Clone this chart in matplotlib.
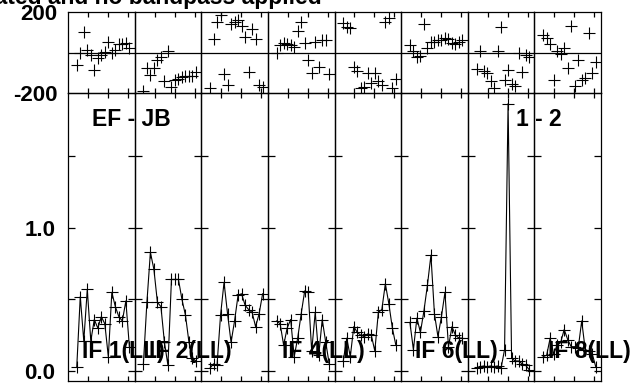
import matplotlib
matplotlib.use("Agg")
import matplotlib.pyplot as plt

# ---------------- data ----------------
channels = list(range(1, 17))
if_names = ["IF 1(LL)", "IF 2(LL)", "IF 3(LL)", "IF 4(LL)",
            "IF 5(LL)", "IF 6(LL)", "IF 7(LL)", "IF 8(LL)"]
label_shown = [True, True, False, True, False, True, False, True]

amp_if1 = [0.03, 0.52, 0.21, 0.57, 0.21, 0.36, 0.30, 0.38, 0.33, 0.10, 0.55, 0.45, 0.38, 0.35, 0.49, 0.17]
amp_if2 = [0.05, 0.48, 0.83, 0.71, 0.48, 0.45, 0.20, 0.04, 0.64, 0.64, 0.64, 0.50, 0.39, 0.20, 0.09, 0.07]
amp_if3 = [0.02, 0.05, 0.04, 0.39, 0.62, 0.40, 0.20, 0.35, 0.53, 0.54, 0.46, 0.43, 0.41, 0.31, 0.40, 0.54]
amp_if4 = [0.35, 0.33, 0.18, 0.30, 0.36, 0.10, 0.23, 0.40, 0.56, 0.55, 0.14, 0.41, 0.11, 0.36, 0.20, 0.05]
amp_if5 = [0.07, 0.23, 0.10, 0.31, 0.27, 0.25, 0.24, 0.26, 0.25, 0.14, 0.41, 0.43, 0.61, 0.47, 0.30, 0.18]
amp_if6 = [0.34, 0.15, 0.37, 0.27, 0.42, 0.60, 0.81, 0.40, 0.24, 0.38, 0.55, 0.17, 0.31, 0.25, 0.23, 0.23]
amp_if7 = [0.02, 0.03, 0.035, 0.03, 0.035, 0.03, 0.035, 0.02, 0.15, 1.87, 0.09, 0.07, 0.07, 0.05, 0.04, 0.01]
amp_if8 = [0.10, 0.11, 0.23, 0.12, 0.18, 0.20, 0.29, 0.22, 0.17, 0.17, 0.16, 0.35, 0.15, 0.14, 0.12, 0.03]

phase_if1 = [-63, 0, 99, 11, -10, -84, -25, -10, 3, 52, -2, 11, 44, 44, 47, 20]
phase_if2 = [-190, -78, -110, -78, -37, -20, -140, 5, -170, -137, -130, -122, -118, -115, -115, -95]
phase_if3 = [-173, 66, 151, 184, -107, -161, 143, 151, 160, 130, 77, -96, 118, 69, -161, -170]
phase_if4 = [-3, 35, 46, 41, 35, 25, 104, 153, 49, -37, -102, 54, -74, 62, 60, -105]
phase_if5 = [145, 128, 120, -74, -91, -173, -170, -102, -152, -102, -140, -160, 150, 170, -173, -130]
phase_if6 = [36, 8, -22, -15, 143, 20, 52, 52, 61, 64, 74, 69, 47, 44, 52, 61]
phase_if7 = [-81, 5, -91, -100, -140, -173, 5, 124, -135, -86, -155, -163, -3, -97, -12, -20]
phase_if8 = [85, 74, 44, -137, 8, -5, 20, -79, 130, -166, -35, -137, -124, 94, -101, -46]

amps = [amp_if1, amp_if2, amp_if3, amp_if4, amp_if5, amp_if6, amp_if7, amp_if8]
phases = [phase_if1, phase_if2, phase_if3, phase_if4, phase_if5, phase_if6, phase_if7, phase_if8]

title_text = "Calibrated and no bandpass applied"
baseline_label = "EF - JB"
pol_label = "1 - 2"

# ---------------- layout ----------------
W, H = 636, 383
fig = plt.figure(figsize=(W / 100, H / 100), dpi=100)
FONT = "Liberation Sans"
TICK_FS = 16
LABEL_FS = 16.5

def fx(x):
    return x / W

def fy(y):
    return 1 - y / H

x0, x1 = 68, 601
pw = (x1 - x0) / 8
ph_top, ph_bot = 12, 93
amp_bot = 381

lw = 0.9
for i in range(8):
    left = x0 + i * pw
    axp = fig.add_axes([fx(left), fy(ph_bot), pw / W, (ph_bot - ph_top) / H])
    axa = fig.add_axes([fx(left), fy(amp_bot), pw / W, (amp_bot - ph_bot) / H])
    for ax in (axp, axa):
        ax.set_xlim(-1.5, 17.5)
        ax.set_xticks([4.2, 9.9, 15.6])
        ax.set_xticklabels([])
        for s in ax.spines.values():
            s.set_linewidth(lw)
            s.set_color("black")
        ax.tick_params(axis="x", direction="in", top=True, bottom=True,
                       length=3.8, width=lw, color="black")
        ax.patch.set_alpha(0)

    # phase panel
    axp.set_ylim(-200, 200)
    axp.axhline(0, color="black", lw=lw)
    axp.plot(channels, phases[i], linestyle="none", marker="+",
             markersize=8, markeredgewidth=0.8, color="black", clip_on=True)
    axp.set_yticks([-200, 200])
    axp.tick_params(axis="y", length=0, left=False, right=False, pad=7.5)
    if i == 0:
        axp.set_yticklabels(["-200", "200"], fontfamily=FONT,
                            fontweight="bold", fontsize=TICK_FS)
    else:
        axp.set_yticklabels([])

    # amplitude panel
    axa.set_ylim(-0.07, 1.944)
    axa.plot(channels, amps[i], color="black", lw=0.8, marker="+",
             markersize=8, markeredgewidth=0.8)
    axa.set_yticks([0.0, 0.5, 1.0, 1.5])
    axa.tick_params(axis="y", direction="in", left=True, right=True,
                    length=5, width=lw, color="black", pad=9)
    if i == 0:
        axa.set_yticklabels(["0.0", "", "1.0", ""], fontfamily=FONT,
                            fontweight="bold", fontsize=TICK_FS)
    else:
        axa.set_yticklabels([])

    if label_shown[i]:
        fig.text(fx(left + 14), fy(358), if_names[i], fontfamily=FONT,
                 fontweight="bold", fontsize=LABEL_FS, ha="left", va="baseline")

fig.text(fx(92), fy(126), baseline_label, fontfamily=FONT,
         fontweight="bold", fontsize=LABEL_FS, ha="left", va="baseline")
fig.text(fx(516), fy(126), pol_label, fontfamily=FONT,
         fontweight="bold", fontsize=LABEL_FS, ha="left", va="baseline")
fig.text(fx(322), fy(4), title_text, fontfamily=FONT,
         fontweight="bold", fontsize=LABEL_FS, ha="right", va="baseline")

fig.savefig("out.png", dpi=100)
